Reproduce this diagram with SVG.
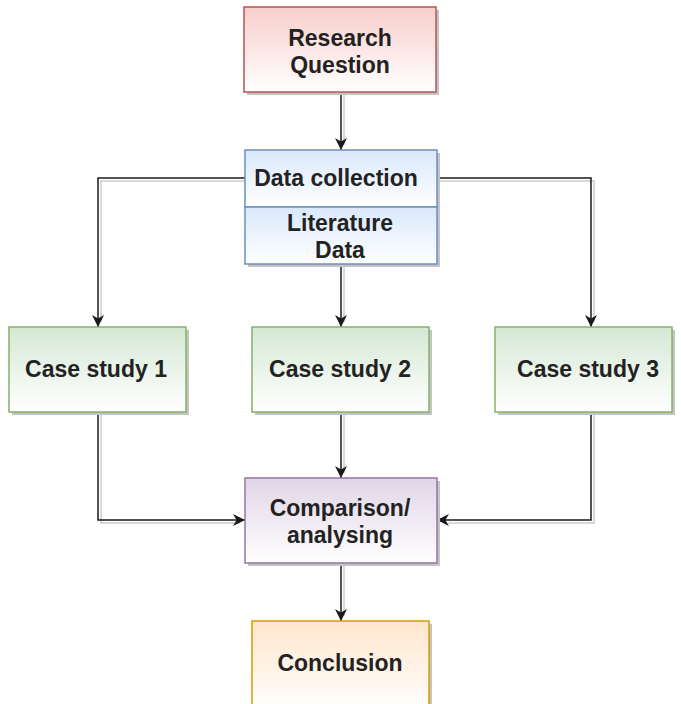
<svg xmlns="http://www.w3.org/2000/svg" width="681" height="704" viewBox="0 0 681 704">
  <defs>
    <linearGradient id="gRed" x1="0" y1="0" x2="0" y2="1"><stop offset="0" stop-color="#f8cecc"/><stop offset="1" stop-color="#ffffff"/></linearGradient>
    <linearGradient id="gBlue" x1="0" y1="0" x2="0" y2="1"><stop offset="0" stop-color="#dae8fc"/><stop offset="1" stop-color="#ffffff"/></linearGradient>
    <linearGradient id="gGreen" x1="0" y1="0" x2="0" y2="1"><stop offset="0" stop-color="#d5e8d4"/><stop offset="1" stop-color="#ffffff"/></linearGradient>
    <linearGradient id="gPurple" x1="0" y1="0" x2="0" y2="1"><stop offset="0" stop-color="#e1d5e7"/><stop offset="1" stop-color="#ffffff"/></linearGradient>
    <linearGradient id="gOrange" x1="0" y1="0" x2="0" y2="1"><stop offset="0" stop-color="#ffe6cc"/><stop offset="1" stop-color="#ffffff"/></linearGradient>
    <marker id="arrow" viewBox="0 0 10 10" refX="10" refY="5" markerWidth="13" markerHeight="12" markerUnits="userSpaceOnUse" orient="auto">
      <path d="M0,0 L10,5 L0,10 L3,5 Z" fill="#1a1a1a"/>
    </marker>
  </defs>
  <style>
    text { font-family: "Liberation Sans", Arial, sans-serif; font-weight: bold; font-size: 23px; fill: #222222; text-anchor: middle; }
    .shadow { fill: #c4c4c4; }
    .edge { fill: none; stroke: #1a1a1a; stroke-width: 1.5; }
    .edgeShadow { fill: none; stroke: #cccccc; stroke-width: 1.5; }
  </style>
  <rect width="681" height="704" fill="#ffffff"/>

  <!-- connectors: offset grey copies first, then the black lines -->
  <g id="connectors">
    <g transform="translate(3,3)">
      <path class="edgeShadow" d="M341,92 V142"/>
      <path class="edgeShadow" d="M245,178 H98 V319"/>
      <path class="edgeShadow" d="M437,178 H591 V319"/>
      <path class="edgeShadow" d="M341,264 V319"/>
      <path class="edgeShadow" d="M98,412 V520 H237"/>
      <path class="edgeShadow" d="M341,412 V470"/>
      <path class="edgeShadow" d="M591,412 V520 H445"/>
      <path class="edgeShadow" d="M341,563 V613"/>
    </g>
    <path class="edge" d="M341,92 V150" marker-end="url(#arrow)"/>
    <path class="edge" d="M245,178 H98 V327" marker-end="url(#arrow)"/>
    <path class="edge" d="M437,178 H591 V327" marker-end="url(#arrow)"/>
    <path class="edge" d="M341,264 V327" marker-end="url(#arrow)"/>
    <path class="edge" d="M98,412 V520 H245" marker-end="url(#arrow)"/>
    <path class="edge" d="M341,412 V478" marker-end="url(#arrow)"/>
    <path class="edge" d="M591,412 V520 H437" marker-end="url(#arrow)"/>
    <path class="edge" d="M341,563 V621" marker-end="url(#arrow)"/>
  </g>

  <g id="research-question">
    <rect class="shadow" x="247" y="10" width="192" height="85"/>
    <rect x="244" y="7" width="192" height="85" fill="url(#gRed)" stroke="#b85450" stroke-width="1.5"/>
    <text x="340" y="46">Research</text>
    <text x="340" y="73">Question</text>
  </g>

  <g id="data-collection">
    <rect class="shadow" x="248" y="153" width="192" height="114"/>
    <rect x="245" y="150" width="192" height="57" fill="url(#gBlue)" stroke="#6c8ebf" stroke-width="1.5"/>
    <rect x="245" y="207" width="192" height="57" fill="url(#gBlue)" stroke="#6c8ebf" stroke-width="1.5"/>
    <text x="336" y="186">Data collection</text>
    <text x="340" y="231">Literature</text>
    <text x="340" y="258">Data</text>
  </g>

  <g id="case-study-1">
    <rect class="shadow" x="12" y="330" width="177" height="85"/>
    <rect x="9" y="327" width="177" height="85" fill="url(#gGreen)" stroke="#82b366" stroke-width="1.5"/>
    <text x="96" y="377">Case study 1</text>
  </g>

  <g id="case-study-2">
    <rect class="shadow" x="255" y="330" width="177" height="85"/>
    <rect x="252" y="327" width="177" height="85" fill="url(#gGreen)" stroke="#82b366" stroke-width="1.5"/>
    <text x="340" y="377">Case study 2</text>
  </g>

  <g id="case-study-3">
    <rect class="shadow" x="498" y="330" width="177" height="85"/>
    <rect x="495" y="327" width="177" height="85" fill="url(#gGreen)" stroke="#82b366" stroke-width="1.5"/>
    <text x="588" y="377">Case study 3</text>
  </g>

  <g id="comparison">
    <rect class="shadow" x="248" y="481" width="192" height="85"/>
    <rect x="245" y="478" width="192" height="85" fill="url(#gPurple)" stroke="#9673a6" stroke-width="1.5"/>
    <text x="340" y="516">Comparison/</text>
    <text x="340" y="543">analysing</text>
  </g>

  <g id="conclusion">
    <rect class="shadow" x="255" y="624" width="177" height="90"/>
    <rect x="252" y="621" width="177" height="90" fill="url(#gOrange)" stroke="#d79b00" stroke-width="1.5"/>
    <text x="340" y="671">Conclusion</text>
  </g>
</svg>
